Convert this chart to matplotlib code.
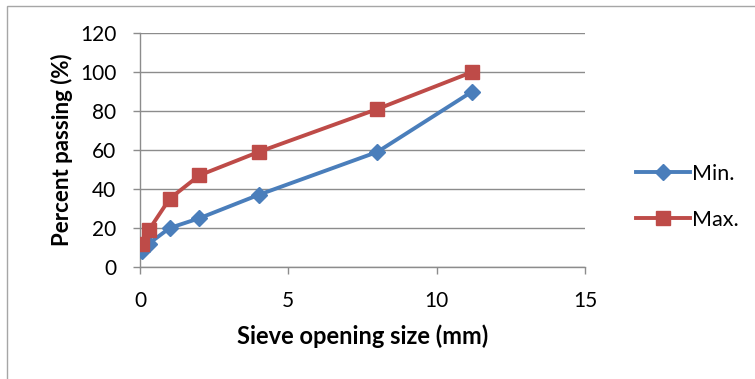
import matplotlib.pyplot as plt
from matplotlib.patches import Rectangle

sizes = [0.075, 0.3, 1, 2, 4, 8, 11.2]
min_pass = [8, 12, 20, 25, 37, 59, 90]
max_pass = [12, 19, 35, 47, 59, 81, 100]

plt.rcParams['font.family'] = ['Lato', 'DejaVu Sans']

W, H = 755, 379
fig = plt.figure(figsize=(W / 100, H / 100), dpi=100)
ax = fig.add_axes([140 / W, 1 - 267 / H, 445 / W, 234 / H])

# chart border
fig.patches.append(Rectangle((7 / W, -0.1), 1.2, 1 - 6 / H + 0.1, transform=fig.transFigure,
                             fill=False, edgecolor='#a6a6a6', linewidth=1))

blue = '#4a7ebb'
red = '#be4b48'
ax.plot(sizes, min_pass, color=blue, lw=2.8, marker='D', ms=8.5, label='Min.', zorder=3)
ax.plot(sizes, max_pass, color=red, lw=2.8, marker='s', ms=10, label='Max.', zorder=4)

ax.set_xlim(0, 15)
ax.set_ylim(0, 120)
ax.set_xticks([0, 5, 10, 15])
ax.set_yticks(range(0, 121, 20))
ax.grid(axis='y', color='#8c8c8c', lw=1)
ax.set_axisbelow(True)
for s in ['top', 'right']:
    ax.spines[s].set_visible(False)
for s in ['left', 'bottom']:
    ax.spines[s].set_color('#8c8c8c')
    ax.spines[s].set_linewidth(1)
ax.tick_params(axis='both', colors='#8c8c8c', labelcolor='black', labelsize=15, length=5, width=1)
ax.tick_params(axis='y', pad=12)
ax.tick_params(axis='x', pad=12)
ax.set_xlabel('Sieve opening size (mm)', fontsize=17, fontweight='bold', labelpad=10)
ax.set_ylabel('Percent passing (%)', fontsize=16, fontweight='bold', labelpad=5)

ax.legend(loc='center left', bbox_to_anchor=(1.072, 0.3), frameon=False, fontsize=15.5,
          handlelength=2.5, labelspacing=1.2, handletextpad=0.1)

fig.savefig('out.png', dpi=100)
